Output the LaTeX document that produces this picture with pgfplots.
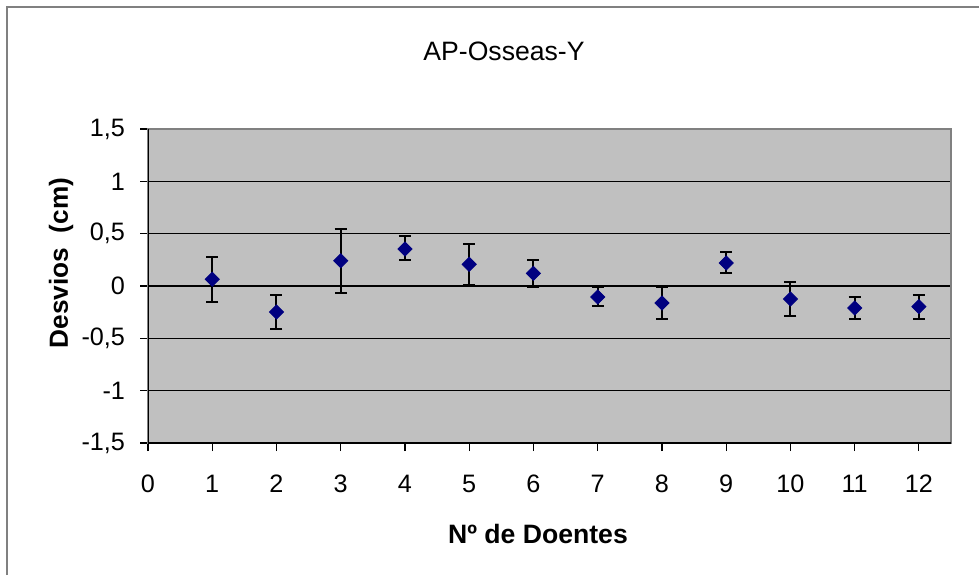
\documentclass[border=0pt]{standalone}
\usepackage{pgfplots}
\pgfplotsset{compat=1.18}
\usepackage{pgfplotstable}
\usepackage{fontspec}
\setmainfont{Liberation Sans}
\definecolor{plotgray}{HTML}{C0C0C0}
\definecolor{navy}{HTML}{000080}
\definecolor{framegray}{HTML}{808080}

% x, y, error plus, error minus
\pgfplotstableread{
x   y      ep     em
1   0.065  0.215  0.215
2  -0.248  0.159  0.162
3   0.242  0.306  0.309
4   0.353  0.122  0.101
5   0.207  0.191  0.197
6   0.121  0.131  0.127
7  -0.105  0.095  0.085
8  -0.162  0.149  0.150
9   0.220  0.108  0.093
10 -0.124  0.165  0.163
11 -0.210  0.108  0.102
12 -0.197  0.108  0.115
}\desvios

\begin{document}
\begin{tikzpicture}
\path[use as bounding box] (0,0) rectangle (489.5pt,287.5pt);
\draw[framegray, line width=1pt] (3.5pt,0) -- (3.5pt,284pt) -- (489.5pt,284pt);
\node[font=\fontsize{13.3}{16}\selectfont] at (252pt,262pt) {AP-Osseas-Y};
\node[font=\bfseries\fontsize{13.1}{16}\selectfont, rotate=90] at (30.5pt,156pt) {Desvios\ \ (cm)};
\node[font=\bfseries\fontsize{13.3}{16}\selectfont] at (269pt,20.5pt) {Nº de Doentes};
\begin{axis}[
    at={(74pt,66pt)}, anchor=south west,
    scale only axis, width=401.5pt, height=157pt,
    xmin=0, xmax=12.5, ymin=-1.5, ymax=1.5,
    xtick={0,...,12}, ytick={-1.5,-1,...,1.5},
    axis background/.style={fill=plotgray},
    axis line style={framegray, line width=1pt},
    tick align=outside, tick pos=left,
    major tick length=4pt,
    tick style={black, line width=0.6pt},
    ymajorgrids, grid style={black, line width=0.6pt},
    ticklabel style={font=\fontsize{12.6}{15}\selectfont},
    yticklabel style={xshift=-4pt},
    xticklabel style={yshift=-8.5pt},
    /pgf/number format/.cd, use comma, assume math mode=true,
]
\addplot[only marks, mark=square*, mark size=2.5pt,
    mark options={navy, rotate=45},
    error bars/.cd, y dir=both, y explicit,
    error bar style={black, line width=1pt},
    error mark options={black, rotate=90, line width=1pt, mark size=3pt}]
    table[x=x, y=y, y error plus=ep, y error minus=em] {\desvios};
\draw[black, line width=1pt] (rel axis cs:0,1) -- (rel axis cs:0,0) -- (rel axis cs:1,0);
\end{axis}
\end{tikzpicture}
\end{document}
